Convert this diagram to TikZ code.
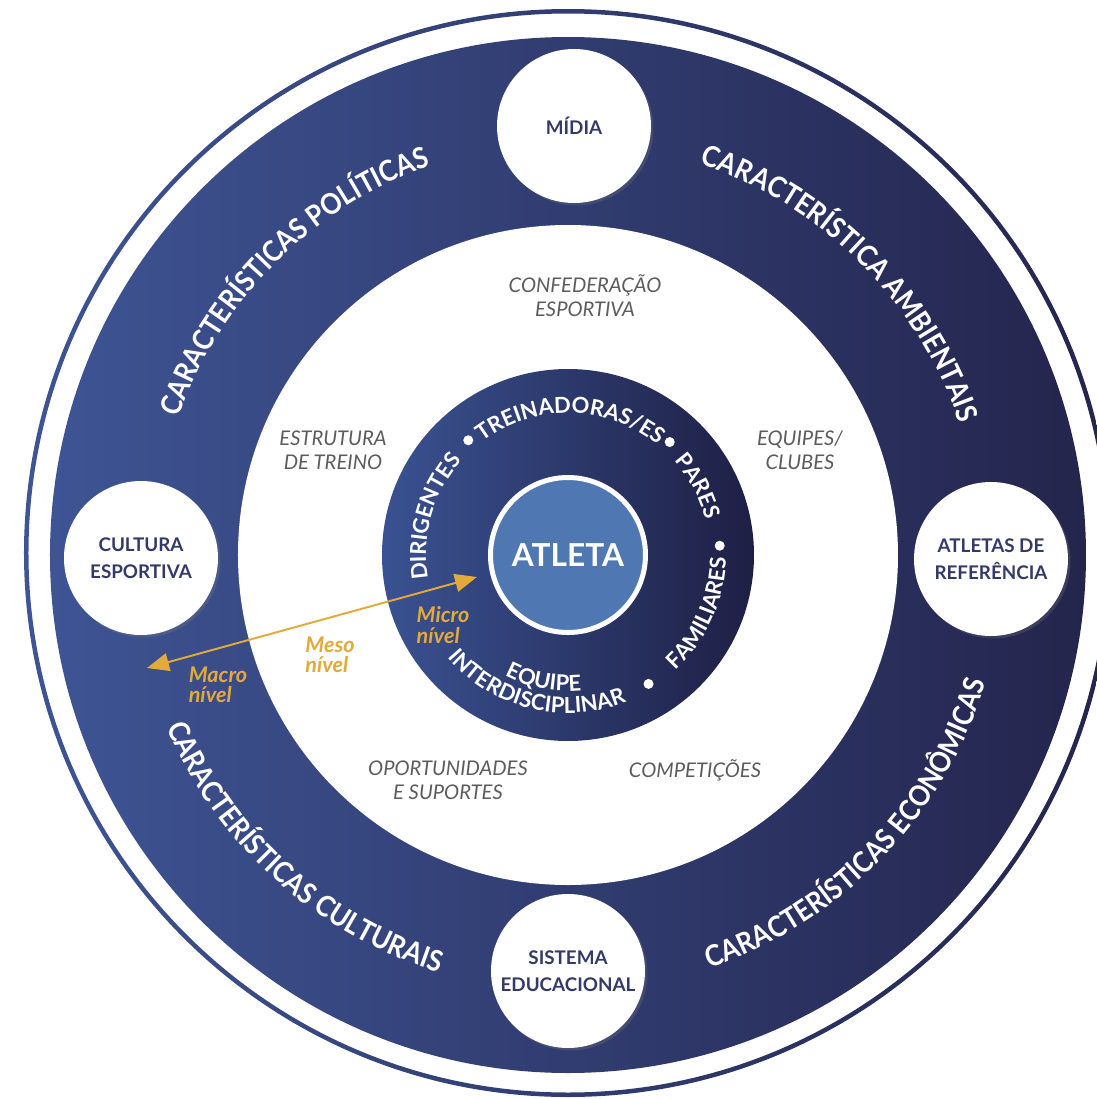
\documentclass[tikz,border=0pt]{standalone}
\usepackage{fontspec}
\setmainfont{Lato}
\newfontfamily\bandface{Lato}[FakeStretch=0.9]
\usetikzlibrary{decorations.text,arrows.meta,shadows}

\definecolor{bandleft}{RGB}{62,84,148}
\definecolor{bandright}{RGB}{36,37,77}
\definecolor{coreleft}{RGB}{58,82,146}
\definecolor{coreright}{RGB}{30,31,68}
\definecolor{atletablue}{RGB}{79,120,179}
\definecolor{levelgold}{RGB}{226,169,59}
\definecolor{mesogray}{RGB}{92,92,92}
\definecolor{satnavy}{RGB}{52,58,104}

\newcommand{\bandfont}{\bandface\bfseries\fontsize{16.5}{19}\selectfont}
\newcommand{\ringfont}{\bfseries\fontsize{12.5}{15}\selectfont}

\tikzset{
    satellite/.style={circle, fill=white, minimum size=3.08cm, inner sep=0pt, align=center,
        text=satnavy, font=\bfseries\fontsize{10.7}{15.5}\selectfont,
        drop shadow={opacity=0.25, shadow xshift=0.05cm, shadow yshift=-0.05cm}},
    mesolabel/.style={align=center, text=mesogray, font=\itshape\fontsize{11.5}{13.5}\selectfont},
    nivel/.style={align=left, text=levelgold, font=\bfseries\itshape\fontsize{12.3}{11.5}\selectfont},
    bandtext/.style={decorate, decoration={text along path, text align=center, text color=white, text={|\bandfont|#1}}},
    ringtext/.style={decorate, decoration={text along path, text align=center, text color=white, text={|\ringfont|#1}}}
}

\begin{document}
\begin{tikzpicture}
    \useasboundingbox (-11.36,-10.88) rectangle (10.58,11.1);
    \clip (-11.36,-10.88) rectangle (10.58,11.1);
    % macro, meso and micro levels
    \shade[left color=bandleft, right color=bandright, even odd rule] (0,0.04) circle (10.88) (0,0.04) circle (10.79);
    \shade[left color=bandleft, right color=bandright] (0,0) circle (10.36);
    \fill[white] (0,0) circle (6.6);
    \shade[left color=coreleft, right color=coreright] (0,0) circle (3.72);
    \node[circle, fill=atletablue, draw=white, line width=0.1cm, minimum size=3.1cm, text=white,
        font=\bfseries\fontsize{18}{20}\selectfont] (atleta) at (0,0) {ATLETA};

    \foreach \x/\y/\name/\lbl in {
        0.12/8.58/midia/MÍDIA,
        0/-8.32/sistema/SISTEMA\\EDUCACIONAL,
        -8.54/-0.06/cultura/CULTURA\\ESPORTIVA,
        8.46/-0.08/atletas/ATLETAS DE\\REFERÊNCIA
    } {
        \node[satellite] (\name) at (\x,\y) {\lbl};
    }

    \path[bandtext=CARACTERÍSTICAS POLÍTICAS] (180:8.26) arc[start angle=180, end angle=90, radius=8.26];
    \path[bandtext=CARACTERÍSTICA AMBIENTAIS] (90:8.26) arc[start angle=90, end angle=0, radius=8.26];
    \path[bandtext=CARACTERÍSTICAS CULTURAIS] (180:8.74) arc[start angle=180, end angle=276, radius=8.74];
    \path[bandtext=CARACTERÍSTICAS ECONÔMICAS] (270:8.74) arc[start angle=270, end angle=362, radius=8.74];

    \node[mesolabel] (confederacao) at (0.34,5.18) {CONFEDERAÇÃO\\ESPORTIVA};
    \node[mesolabel] (estrutura) at (-4.7,2.1) {ESTRUTURA\\DE TREINO};
    \node[mesolabel] (equipes) at (4.64,2.1) {EQUIPES/\\CLUBES};
    \node[mesolabel] (oportunidades) at (-2.4,-4.5) {OPORTUNIDADES\\E SUPORTES};
    \node[mesolabel] (competicoes) at (2.54,-4.3) {COMPETIÇÕES};

    \path[ringtext=DIRIGENTES] (214:2.84) arc[start angle=214, end angle=114, radius=2.84];
    \path[ringtext=TREINADORAS/ES] (139:2.84) arc[start angle=139, end angle=39, radius=2.84];
    \path[ringtext=PARES] (78:2.84) arc[start angle=78, end angle=-22, radius=2.84];
    \path[ringtext=FAMILIARES] (-74:3.16) arc[start angle=-74, end angle=26, radius=3.16];
    \path[ringtext=INTERDISCIPLINAR] (196:3.16) arc[start angle=196, end angle=316, radius=3.16];
    \path[ringtext=EQUIPE] (209:2.72) arc[start angle=209, end angle=309, radius=2.72];
    \foreach \a in {131,48,3.5,302} {
        \fill[white] (\a:3.04) circle (0.1);
    }

    \coordinate (macroend) at (-8.42,-2.26);
    \coordinate (microend) at (-1.82,-0.44);
    \draw[levelgold, line width=1.1pt, {Triangle[length=0.44cm, width=0.36cm]}-{Triangle[length=0.44cm, width=0.36cm]}] (macroend) -- (microend);
    \node[nivel] (micro) at (-2.5,-1.4) {Micro\\nível};
    \node[nivel] (meso) at (-4.76,-2.0) {Meso\\nível};
    \node[nivel] (macro) at (-7.0,-2.6) {Macro\\nível};
\end{tikzpicture}
\end{document}
